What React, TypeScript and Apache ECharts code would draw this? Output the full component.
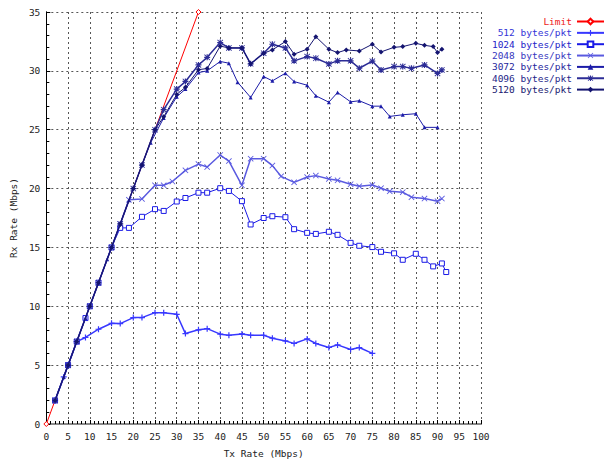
import React, { useEffect, useRef } from "react";
import * as echarts from "echarts";

const seriesNames = ["Limit", "512 bytes/pkt", "1024 bytes/pkt", "2048 bytes/pkt", "3072 bytes/pkt", "4096 bytes/pkt", "5120 bytes/pkt"];
const xTicks = [0, 100];
const yTicks = [0, 35];

const limitData = [[0, 0], [35, 35]];
const data512 = [[2, 2], [4, 4], [5, 5], [7, 7], [9, 7.35], [12, 8.05], [15, 8.56], [17, 8.53], [20, 9.04], [22, 9.04], [25, 9.46], [27, 9.46], [30, 9.32], [32, 7.68], [35, 8.0], [37, 8.1], [40, 7.63], [42, 7.54], [45, 7.65], [47, 7.54], [50, 7.54], [52, 7.29], [55, 7.06], [57, 6.84], [60, 7.23], [62, 6.84], [65, 6.5], [67, 6.72], [70, 6.33], [72, 6.5], [75, 6.0]];
const data1024 = [[2, 2], [5, 5], [7, 7], [9, 9], [10, 10], [12, 12], [15, 15], [17, 16.66], [19, 16.66], [22, 17.6], [25, 18.25], [27, 18.1], [30, 18.9], [32, 19.2], [35, 19.65], [37, 19.65], [40, 20.03], [42, 19.8], [45, 18.93], [47, 16.95], [50, 17.5], [52, 17.65], [55, 17.57], [57, 16.55], [60, 16.24], [62, 16.15], [65, 16.33], [67, 16.07], [70, 15.39], [72, 15.14], [75, 15.03], [77, 14.63], [80, 14.5], [82, 13.95], [85, 14.46], [87, 13.95], [89, 13.39], [91, 13.64], [92, 12.91]];
const data2048 = [[2, 2], [5, 5], [7, 7], [10, 10], [12, 12], [15, 15], [17, 17], [19, 19.04], [22, 19.12], [25, 20.28], [27, 20.28], [29, 20.6], [32, 21.55], [35, 22.08], [37, 21.83], [40, 22.85], [42, 22.34], [45, 20.28], [47, 22.54], [50, 22.54], [52, 21.95], [54, 21.04], [57, 20.53], [60, 20.98], [62, 21.1], [65, 20.82], [67, 20.7], [70, 20.37], [72, 20.2], [75, 20.31], [77, 20.03], [79, 19.77], [82, 19.69], [84, 19.27], [87, 19.15], [90, 18.93], [91, 19.15]];
const data3072 = [[2, 2], [4, 4], [7, 7], [9, 9], [12, 12], [14, 14], [17, 17], [19, 19], [22, 22], [24, 23.9], [27, 26.0], [30, 27.8], [32, 28.45], [35, 29.85], [37, 30.0], [40, 30.8], [42, 30.65], [44, 29.04], [47, 27.74], [50, 29.52], [52, 29.15], [55, 29.8], [57, 29.09], [60, 28.78], [62, 27.88], [65, 27.34], [67, 28.16], [70, 27.37], [72, 27.46], [75, 27.0], [77, 27.0], [79, 26.13], [82, 26.27], [85, 26.36], [87, 25.2], [90, 25.2]];
const data4096 = [[2, 2], [5, 5], [7, 7], [10, 10], [12, 12], [15, 15], [17, 17], [20, 20], [22, 22], [25, 25], [27, 26.7], [30, 28.45], [32, 29.1], [35, 30.5], [37, 31.15], [40, 32.4], [42, 31.95], [45, 31.95], [47, 30.6], [50, 31.5], [52, 32.26], [55, 31.95], [57, 30.85], [60, 31.21], [62, 31.07], [65, 30.59], [67, 30.85], [70, 30.85], [72, 30.22], [75, 30.82], [77, 30.08], [80, 30.36], [82, 30.36], [84, 30.22], [87, 30.5], [90, 29.78], [91, 30.08]];
const data5120 = [[2, 2], [5, 5], [7, 7], [10, 10], [12, 12], [15, 15], [17, 17], [20, 20], [22, 22], [25, 25], [27, 26.1], [30, 28.0], [32, 28.6], [35, 30.1], [37, 30.2], [40, 32.1], [42, 31.95], [45, 31.95], [47, 30.6], [50, 31.5], [52, 31.78], [55, 32.49], [57, 31.42], [60, 31.84], [62, 32.9], [65, 31.84], [67, 31.55], [69, 31.78], [72, 31.69], [75, 32.26], [77, 31.61], [80, 32.0], [82, 32.06], [85, 32.34], [87, 32.17], [89, 32.06], [90, 31.55], [91, 31.84]];

const allData = [limitData, data512, data1024, data2048, data3072, data4096, data5120];

const lineColors = ["#ff0000", "#3838ff", "#1a1ae6", "#5a5ae0", "#1c1ca8", "#2c2c96", "#141470"];
const textColors = ["#ee1c1c", "#3434d8", "#2424c8", "#3838c0", "#26269c", "#1e1e88", "#181870"];
const lineWidths = [1, 1.5, 1, 1.5, 1, 1.5, 1];

const PLUS = "path://M4,0H6V4H10V6H6V10H4V6H0V4H4Z";
const CROSS = "path://M0,1L1,0L5,4L9,0L10,1L6,5L10,9L9,10L5,6L1,10L0,9L4,5Z";
const STAR = "path://M4,0H6V4H10V6H6V10H4V6H0V4H4Z M0,1L1,0L5,4L9,0L10,1L6,5L10,9L9,10L5,6L1,10L0,9L4,5Z";
const symbols = ["diamond", PLUS, "rect", CROSS, "triangle", STAR, "diamond"];
const symbolSizes = [5, 6, 5, 6, 4, 6, 5];
const hollow = [true, false, true, false, false, false, false];

const FONT = "DejaVu Sans Mono";

export default function App() {
  const ref = useRef<HTMLDivElement>(null);
  useEffect(() => {
    if (!ref.current) return;
    const chart = echarts.init(ref.current, undefined, { renderer: "svg" });
    const series = seriesNames.map((name, i) => ({
      type: "line",
      name,
      data: allData[i],
      symbol: symbols[i],
      symbolSize: symbolSizes[i],
      showSymbol: true,
      lineStyle: { color: lineColors[i], width: lineWidths[i] },
      itemStyle: hollow[i]
        ? { color: "#ffffff", borderColor: lineColors[i], borderWidth: 1 }
        : { color: lineColors[i], borderWidth: 0 },
      emphasis: { disabled: true },
      z: 2 + i,
    }));
    const legends = seriesNames.map((name, i) => ({
      data: [name],
      right: 4,
      top: 16.5 + i * 11.35,
      orient: "horizontal",
      align: "right",
      itemWidth: 27,
      itemHeight: 7,
      itemGap: 0,
      padding: 0,
      selectedMode: false,
      textStyle: { color: textColors[i], fontFamily: FONT, fontSize: 9.5 },
    }));
    chart.setOption({
      animation: false,
      backgroundColor: "#ffffff",
      grid: { left: 44, right: 128, top: 12, bottom: 38, containLabel: false },
      legend: legends,
      xAxis: [
        {
          type: "value",
          min: xTicks[0],
          max: xTicks[1],
          interval: 5,
          name: "Tx Rate (Mbps)",
          nameLocation: "middle",
          nameGap: 24,
          nameTextStyle: { fontFamily: FONT, fontSize: 9.5, color: "#222" },
          axisLine: { show: true, lineStyle: { color: "#000", width: 1 } },
          axisTick: { show: true, inside: true, length: 4, lineStyle: { color: "#000" } },
          minorTick: { show: true, splitNumber: 5, length: 3, lineStyle: { color: "#000" } },
          axisLabel: { fontFamily: FONT, fontSize: 9.5, color: "#222", margin: 7 },
          splitLine: { show: true, lineStyle: { color: "#555", type: [2, 3], width: 1 } },
        },
        {
          type: "value",
          position: "top",
          min: xTicks[0],
          max: xTicks[1],
          axisLine: { show: true, lineStyle: { color: "#8a8a8a", width: 2 } },
          axisTick: { show: false },
          axisLabel: { show: false },
          splitLine: { show: false },
        },
      ],
      yAxis: [
        {
          type: "value",
          min: yTicks[0],
          max: yTicks[1],
          interval: 5,
          name: "Rx Rate (Mbps)",
          nameLocation: "middle",
          nameRotate: 90,
          nameGap: 24,
          nameTextStyle: { fontFamily: FONT, fontSize: 9.5, color: "#222" },
          axisLine: { show: true, lineStyle: { color: "#000", width: 1 } },
          axisTick: { show: true, inside: true, length: 4, lineStyle: { color: "#000" } },
          minorTick: { show: true, splitNumber: 5, length: 3, lineStyle: { color: "#000" } },
          axisLabel: { fontFamily: FONT, fontSize: 9.5, color: "#222", margin: 6 },
          splitLine: { show: true, lineStyle: { color: "#555", type: [2, 3], width: 1 } },
        },
        {
          type: "value",
          position: "right",
          min: yTicks[0],
          max: yTicks[1],
          axisLine: { show: true, lineStyle: { color: "#000", width: 1 } },
          axisTick: { show: false },
          axisLabel: { show: false },
          splitLine: { show: false },
        },
      ],
      series,
    });
    return () => chart.dispose();
  }, []);
  return <div ref={ref} style={{ width: 609, height: 463, position: "absolute", left: 0, top: 0 }} />;
}
